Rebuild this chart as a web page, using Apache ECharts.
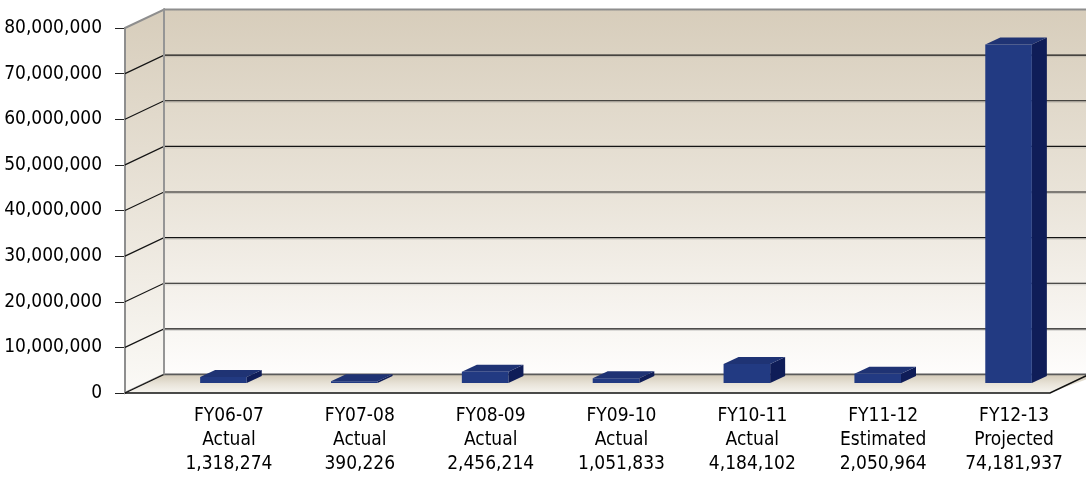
<!DOCTYPE html>
<html>
<head>
<meta charset="utf-8">
<script src="https://cdn.jsdelivr.net/npm/echarts@6/dist/echarts.min.js"></script>
<style>
  html, body { margin: 0; padding: 0; background: #ffffff; }
  #chart { width: 1086px; height: 492px; }
</style>
</head>
<body>
<div id="chart"></div>
<script>
// Fiscal years, their status and the amounts per year
const categories = ['FY06-07', 'FY07-08', 'FY08-09', 'FY09-10', 'FY10-11', 'FY11-12', 'FY12-13'];
const statuses = ['Actual', 'Actual', 'Actual', 'Actual', 'Actual', 'Estimated', 'Projected'];
const values = [1318274, 390226, 2456214, 1051833, 4184102, 2050964, 74181937];
const gridValues = [10000000, 20000000, 30000000, 40000000, 50000000, 60000000, 70000000];

const FONT = '"DejaVu Sans Condensed", "Liberation Sans Narrow", sans-serif';
const WALL_DEPTH = [39, -18.5];   // perspective offset from front plane to back wall
const BAR_DEPTH = [15, -7];       // perspective offset of each bar's top/side faces

const fmt = n => n.toLocaleString('en-US');

const chart = echarts.init(document.getElementById('chart'), null, { renderer: 'canvas' });

// Walls, floor and grid lines of the 3-D box, laid out on the front-plane grid
function renderBox(params, api) {
  const cs = params.coordSys;
  const x0 = cs.x, x1 = cs.x + cs.width;
  const y0 = cs.y, yb = cs.y + cs.height;
  const [dx, dy] = WALL_DEPTH;
  const children = [];

  children.push({
    type: 'polygon',
    shape: { points: [[x0 + dx, y0 + dy], [x1 + dx + 10, y0 + dy], [x1 + dx + 10, yb + dy], [x0 + dx, yb + dy]] },
    style: {
      fill: new echarts.graphic.LinearGradient(0, 0, 0, 1, [
        { offset: 0, color: '#d7cdbb' },
        { offset: 0.5, color: '#e9e3d8' },
        { offset: 1, color: '#fefdfc' }
      ]),
      stroke: '#8e8e8e', lineWidth: 2
    }
  });
  children.push({
    type: 'polygon',
    shape: { points: [[x0, y0], [x0 + dx, y0 + dy], [x0 + dx, yb + dy], [x0, yb]] },
    style: {
      fill: new echarts.graphic.LinearGradient(0, 0, 0, 1, [
        { offset: 0, color: '#d7cdbb' },
        { offset: 0.5, color: '#e9e3d8' },
        { offset: 1, color: '#fbfaf7' }
      ]),
      stroke: '#8e8e8e', lineWidth: 2
    }
  });
  children.push({
    type: 'polygon',
    shape: { points: [[x0, yb], [x0 + dx, yb + dy], [x1 + dx + 10, yb + dy], [x1, yb]] },
    style: {
      fill: new echarts.graphic.LinearGradient(0, 0, 0, 1, [
        { offset: 0, color: '#d3cab8' },
        { offset: 0.5, color: '#e8e3d8' },
        { offset: 1, color: '#f7f5f0' }
      ])
    }
  });
  children.push({
    type: 'line',
    shape: { x1: x0 + dx, y1: yb + dy, x2: x1 + dx + 10, y2: yb + dy },
    style: { stroke: '#5a5a5a', lineWidth: 1.5 }
  });
  children.push({
    type: 'polyline',
    shape: { points: [[x0, yb], [x1, yb], [x1 + dx, yb + dy]] },
    style: { stroke: '#111111', lineWidth: 1.5, fill: null }
  });
  children.push({
    type: 'line',
    shape: { x1: x0, y1: yb, x2: x0 + dx, y2: yb + dy },
    style: { stroke: '#111111', lineWidth: 1.2 }
  });

  gridValues.forEach(v => {
    const y = api.coord([0, v])[1];
    children.push({
      type: 'line',
      shape: { x1: x0 + dx, y1: y + dy + 1.5, x2: x1 + dx + 10, y2: y + dy + 1.5 },
      style: { stroke: 'rgba(120,120,120,0.25)', lineWidth: 1 }
    });
    children.push({
      type: 'polyline',
      shape: { points: [[x0, y], [x0 + dx, y + dy], [x1 + dx + 10, y + dy]] },
      style: { stroke: '#141414', lineWidth: 1.2, fill: null }
    });
  });

  // back-left vertical edge drawn last so it sits over the grid lines
  children.push({
    type: 'line',
    shape: { x1: x0 + dx, y1: y0 + dy, x2: x0 + dx, y2: yb + dy },
    style: { stroke: '#959595', lineWidth: 2 }
  });

  return { type: 'group', children };
}

// One 3-D bar: front face, top face and right side face
function renderBar(params, api) {
  const i = api.value(0), v = api.value(1);
  const top = api.coord([i, v]);
  const base = api.coord([i, 0]);
  const w = api.size([1, 0])[0] * 0.356;
  const xl = top[0] - w / 2, xr = top[0] + w / 2;
  const yt = top[1], yb = base[1];
  const [dx, dy] = BAR_DEPTH;
  return {
    type: 'group',
    children: [
      {
        type: 'polygon',
        shape: { points: [[xr, yt], [xr + dx, yt + dy], [xr + dx, yb + dy], [xr, yb]] },
        style: { fill: '#0f1d58' }
      },
      {
        type: 'polygon',
        shape: { points: [[xl, yt], [xl + dx, yt + dy], [xr + dx, yt + dy], [xr, yt]] },
        style: { fill: '#1f3374' }
      },
      {
        type: 'rect',
        shape: { x: xl, y: yt, width: w, height: yb - yt },
        style: { fill: '#223a82' }
      }
    ]
  };
}

const option = {
  backgroundColor: '#ffffff',
  animation: false,
  grid: [
    { left: 125, right: 36, top: 28, bottom: 99, outerBoundsMode: 'none', containLabel: false },
    { left: 158, right: 12, top: 18, bottom: 109, outerBoundsMode: 'none', containLabel: false }
  ],
  xAxis: [
    { type: 'category', gridIndex: 0, data: categories, show: false },
    {
      type: 'category', gridIndex: 1, data: categories,
      axisLine: { show: false }, axisTick: { show: false },
      axisLabel: {
        interval: 0, margin: 21,
        fontFamily: FONT, fontSize: 19, lineHeight: 24, color: '#000000',
        padding: [0, 0, 0, 11],
        formatter: (v, idx) => v + '\n' + statuses[idx] + '\n' + fmt(values[idx])
      }
    }
  ],
  yAxis: [
    {
      type: 'value', gridIndex: 0, min: 0, max: 80000000, interval: 10000000,
      axisLine: { show: true, lineStyle: { color: '#8e8e8e', width: 2 } },
      axisTick: { show: true, length: 10, lineStyle: { color: '#222222', width: 1 } },
      axisLabel: { margin: 23, fontFamily: FONT, fontSize: 19, color: '#000000', formatter: v => fmt(v) },
      splitLine: { show: false }
    },
    {
      type: 'value', gridIndex: 1, min: 0, max: 80000000, interval: 10000000,
      show: false, splitLine: { show: false }
    }
  ],
  series: [
    {
      type: 'custom', xAxisIndex: 0, yAxisIndex: 0, z: 1,
      renderItem: renderBox, data: [[0, 0]], silent: true, clip: false
    },
    {
      type: 'custom', xAxisIndex: 1, yAxisIndex: 1, z: 3,
      renderItem: renderBar, clip: false,
      data: values.map((v, i) => [i, v])
    }
  ]
};

chart.setOption(option);
</script>
</body>
</html>
